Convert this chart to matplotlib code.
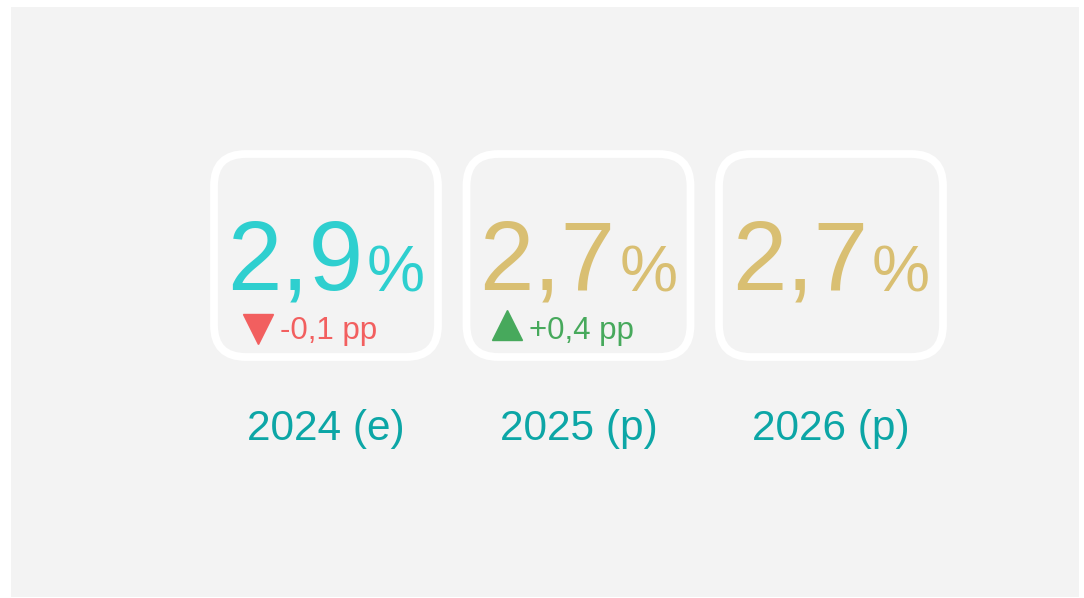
import matplotlib
matplotlib.use("Agg")
import matplotlib.pyplot as plt
from matplotlib.patches import FancyBboxPatch, Rectangle

plt.rcParams['font.family'] = ['Liberation Sans', 'DejaVu Sans']

# Data
years = ["2024 (e)", "2025 (p)", "2026 (p)"]
values = [2.9, 2.7, 2.7]
changes = [-0.1, 0.4, None]
value_colors = ["#2ecfcf", "#d9bf72", "#d9bf72"]

W, H = 1084, 598
fig = plt.figure(figsize=(W / 100, H / 100), dpi=100)
ax = fig.add_axes([0, 0, 1, 1])
ax.set_xlim(0, W)
ax.set_ylim(H, 0)
ax.axis('off')

ax.add_patch(Rectangle((11, 7), 1068, 590, facecolor="#f3f3f3", edgecolor="none", zorder=0))

fig.canvas.draw()
renderer = fig.canvas.get_renderer()

def width_px(t):
    bb = t.get_window_extent(renderer=renderer)
    return bb.width

box_w, box_h = 224, 203
for i, (yr, v, ch, col) in enumerate(zip(years, values, changes, value_colors)):
    cx = 326 + i * 252.5
    ax.add_patch(FancyBboxPatch((cx - box_w / 2, 154), box_w, box_h,
                                boxstyle="round,pad=0,rounding_size=32",
                                facecolor="none", edgecolor="white",
                                linewidth=5.6, zorder=1))
    num = f"{v:.1f}".replace(".", ",")
    t1 = ax.text(0, 290, num, fontsize=70.5, color=col, ha='left', va='baseline', zorder=2)
    t2 = ax.text(0, 291, "%", fontsize=47, color=col, ha='left', va='baseline', zorder=2)
    w1 = width_px(t1)
    w2 = width_px(t2)
    gap = 4
    total = w1 + gap + w2
    x0 = cx - total / 2
    t1.set_x(x0)
    t2.set_x(x0 + w1 + gap)

    if ch is not None:
        up = ch > 0
        ccol = "#47a95c" if up else "#f25f5f"
        label = f"{ch:+.1f}".replace(".", ",") + " pp"
        t3 = ax.text(0, 339, label, fontsize=22.5, color=ccol, ha='left', va='baseline', zorder=2)
        w3 = width_px(t3)
        tri_w = 28
        tgap = 8
        gw = tri_w + tgap + w3
        gx0 = cx - 15 - gw / 2
        ax.plot([gx0 + tri_w / 2], [325 if up else 329], marker='^' if up else 'v',
                markersize=21, color=ccol, linestyle='none', zorder=2)
        t3.set_x(gx0 + tri_w + tgap)

    ax.text(cx, 440, yr, fontsize=30.5, color="#0ca6a6", ha='center', va='baseline', zorder=2)

fig.savefig("out.png", dpi=100, facecolor="white")
